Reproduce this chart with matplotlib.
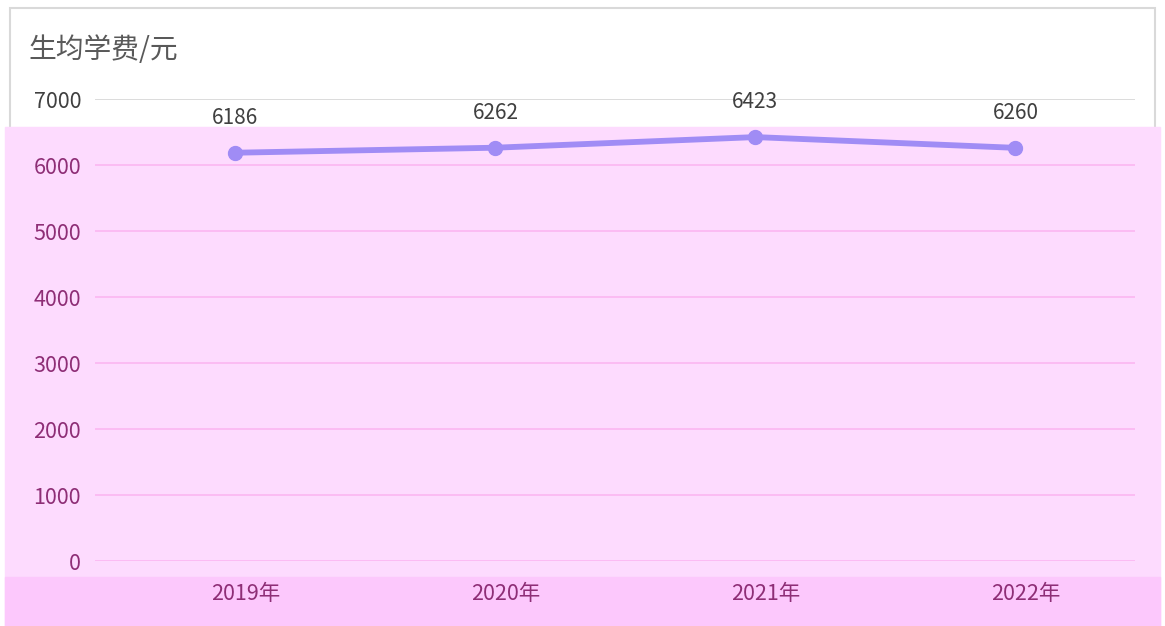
import matplotlib.pyplot as plt
import matplotlib.transforms as mtransforms
from matplotlib.patches import Rectangle

plt.rcParams['font.family'] = ['Noto Sans CJK SC', 'DejaVu Sans']

# Data
years = ['2019年', '2020年', '2021年', '2022年']
fees = [6186, 6262, 6423, 6260]
y_ticks = [0, 1000, 2000, 3000, 4000, 5000, 6000, 7000]

W, H = 1165, 626
fig = plt.figure(figsize=(W / 100, H / 100), dpi=100)
fig.patch.set_facecolor('white')

# outer border
fig.add_artist(Rectangle((10 / W, -0.02), 1145 / W, 1 - 8 / H + 0.02,
                         transform=fig.transFigure, fill=False,
                         edgecolor='#D9D9D9', linewidth=1.5, zorder=0))
# pink overlay bands
fig.add_artist(Rectangle((5 / W, 0), 1155 / W, (H - 127) / H,
                         transform=fig.transFigure, color='#FDDBFE', zorder=0.5))
fig.add_artist(Rectangle((5 / W, 0), 1155 / W, (H - 577) / H,
                         transform=fig.transFigure, color='#FCC8FC', zorder=0.6))

ax = fig.add_axes([95 / W, 1 - 561 / H, (1135 - 95) / W, (561 - 99) / H])
ax.set_facecolor('none')
ax.set_zorder(2)

x = range(len(years))
ax.plot(x, fees, color='#A08CF5', linewidth=4.2, marker='o', markersize=10,
        solid_capstyle='round', zorder=3, clip_on=False)
for xi, v in zip(x, fees):
    ax.annotate(str(v), (xi, v), xytext=(0, 25), textcoords='offset points',
                ha='center', va='center', fontsize=15, color='#404040')

ax.set_xlim(-0.54, 3.46)
ax.set_ylim(0, 7000)
ax.set_yticks(y_ticks)
ax.set_xticks(list(x))
ax.set_xticklabels(years)
ax.tick_params(length=0, labelsize=15.5)
ax.tick_params(axis='y', pad=10)
ax.tick_params(axis='x', pad=16)
for s in ax.spines.values():
    s.set_visible(False)

for t in y_ticks:
    ax.axhline(t, color='#D9D9D9' if t == 7000 else '#FBB9F2',
               linewidth=1.3, zorder=1)
for lab in ax.get_yticklabels():
    lab.set_color('#404040' if lab.get_text() == '7000' else '#8E2E76')

# year labels sit slightly right of the points in the original
shift = mtransforms.ScaledTranslation(10 / 100, 0, fig.dpi_scale_trans)
for lab in ax.get_xticklabels():
    lab.set_color('#8E2E76')
    lab.set_transform(lab.get_transform() + shift)

fig.text(28 / W, 1 - 50 / H, '生均学费/元', fontsize=20, color='#595959',
         ha='left', va='center')

fig.savefig('out.png', dpi=100)
